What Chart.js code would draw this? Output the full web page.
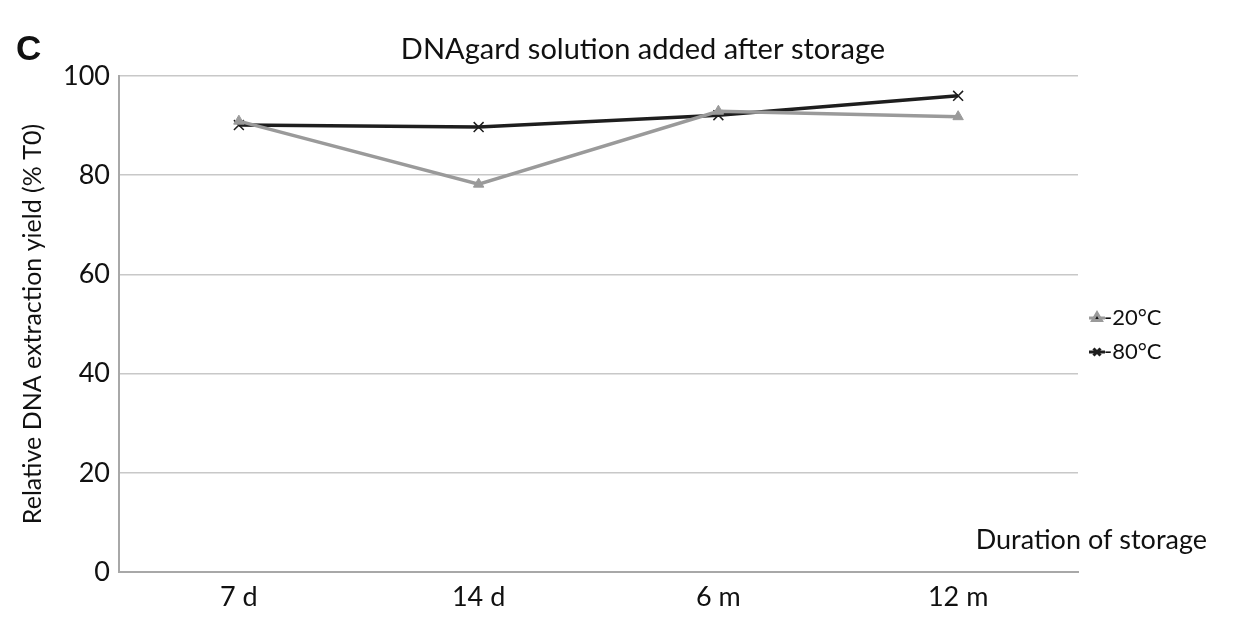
<!DOCTYPE html>
<html>
<head>
<meta charset="utf-8">
<script src="https://cdn.jsdelivr.net/npm/chart.js@4"></script>
<style>
  html, body { margin: 0; padding: 0; background: #fff; }
  #wrap { width: 1235px; height: 634px; }
</style>
</head>
<body>
<div id="wrap"><canvas id="chart" width="1235" height="634"></canvas></div>
<script>
const categories = ['7 d', '14 d', '6 m', '12 m'];
const minus20 = [90.9, 78.2, 92.9, 91.8];
const minus80 = [90.1, 89.7, 92.1, 96.0];
const yTicks = [0, 20, 40, 60, 80, 100];

const FONT = 'Lato, "Open Sans", sans-serif';

// Titel, Paneelbuchstabe, x-Achsentitel und Legende
const extras = {
    id: 'extras',
    afterDraw(chart) {
        const ctx = chart.ctx;
        ctx.save();
        ctx.fillStyle = '#111';
        ctx.textBaseline = 'middle';

        ctx.font = 'bold 35px "Liberation Sans", Arial, sans-serif';
        ctx.textAlign = 'left';
        ctx.fillText('C', 16, 50);

        ctx.font = '29px ' + FONT;
        ctx.textAlign = 'center';
        ctx.fillText('DNAgard solution added after storage', 643, 50);

        ctx.font = '27px ' + FONT;
        ctx.textAlign = 'right';
        ctx.fillText('Duration of storage', 1207, 540);

        // Legende
        ctx.font = '22px ' + FONT;
        ctx.textAlign = 'left';
        chart.data.datasets.forEach((ds, i) => {
            const y = 318 + i * 34;
            ctx.strokeStyle = ds.borderColor;
            ctx.lineWidth = 3;
            ctx.beginPath();
            ctx.moveTo(1089, y);
            ctx.lineTo(1105, y);
            ctx.stroke();
            Chart.helpers.drawPoint(ctx, {
                pointStyle: ds.pointStyle,
                radius: 5,
                borderWidth: ds.pointBorderWidth
            }, 1097, y);
            ctx.fillStyle = '#111';
            ctx.fillText(ds.label, 1104, y);
        });
        ctx.restore();
    }
};

new Chart(document.getElementById('chart'), {
    type: 'line',
    data: {
        labels: categories,
        datasets: [
            {
                label: '-20°C',
                data: minus20,
                borderColor: '#9a9a9a',
                backgroundColor: '#9a9a9a',
                borderWidth: 3.5,
                pointStyle: 'triangle',
                pointRadius: 6,
                pointBorderWidth: 1,
                tension: 0
            },
            {
                label: '-80°C',
                data: minus80,
                borderColor: '#1e1e1e',
                backgroundColor: '#1e1e1e',
                borderWidth: 3.5,
                pointStyle: 'crossRot',
                pointRadius: 7,
                pointBorderWidth: 1.5,
                tension: 0
            }
        ]
    },
    options: {
        responsive: false,
        animation: false,
        layout: { padding: { left: 0, top: 76, right: 157, bottom: 0 } },
        plugins: {
            legend: { display: false },
            title: { display: false },
            tooltip: { enabled: false }
        },
        scales: {
            x: {
                offset: true,
                grid: { display: false, drawTicks: false },
                border: { display: true, color: '#a8a8a8', width: 2 },
                ticks: { color: '#111', font: { family: FONT, size: 27 }, padding: 9 },
                afterFit(scale) { scale.height = 62; }
            },
            y: {
                min: 0,
                max: 100,
                afterBuildTicks(scale) { scale.ticks = yTicks.map(v => ({ value: v })); },
                grid: { color: '#c8c8c8', lineWidth: 1.5, drawTicks: false },
                border: { display: true, color: '#a8a8a8', width: 2 },
                ticks: { color: '#111', font: { family: FONT, size: 27 }, padding: 9 },
                title: {
                    display: true,
                    text: 'Relative DNA extraction yield (% T0)',
                    color: '#111',
                    font: { family: FONT, size: 25 },
                    padding: { top: 18, bottom: 0 }
                },
                afterFit(scale) { scale.width = 119; }
            }
        }
    },
    plugins: [extras]
});
</script>
</body>
</html>
